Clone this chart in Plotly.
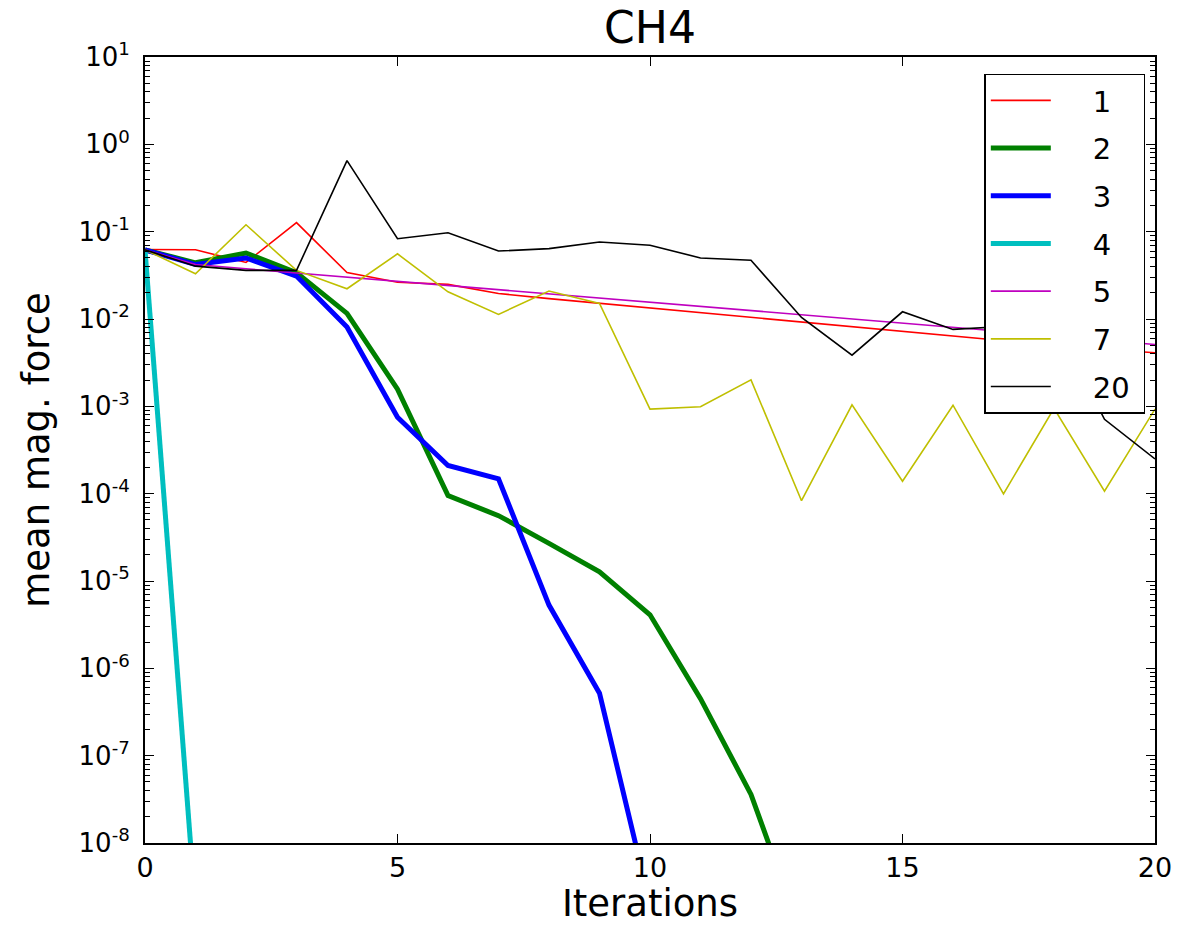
import plotly.graph_objects as go

iterations = list(range(0, 21))

s1 = [0.0625, 0.062, 0.0444, 0.127, 0.034, 0.0264, 0.0249, 0.0196, 0.0171, 0.0151,
      0.0134, 0.0118, 0.0105, 0.0092, 0.0082, 0.0072, 0.0064, 0.0056, 0.0050, 0.0045, 0.0041]
s2 = [0.062, 0.044, 0.057, 0.034, 0.0116, 0.00157, 9.5e-5, 5.6e-5, 2.7e-5, 1.27e-5,
      4.1e-6, 4.5e-7, 3.6e-8, 9e-10]
s3 = [0.062, 0.042, 0.050, 0.031, 0.0081, 7.5e-4, 2.1e-4, 1.48e-4, 5.3e-6, 5.2e-7, 2e-9]
s4 = [0.062, 1.8e-9]
s5 = [0.062, 0.042, 0.0376, 0.0337, 0.0301, 0.0270, 0.0242, 0.0216, 0.0194, 0.0173,
      0.0155, 0.0139, 0.0124, 0.0111, 0.0100, 0.0089, 0.0080, 0.0072, 0.0064, 0.0057, 0.0051]
s7 = [0.062, 0.033, 0.12, 0.036, 0.0222, 0.0557, 0.0205, 0.0113, 0.0209, 0.0151,
      0.00093, 0.00099, 0.00201, 8.3e-5, 0.00104, 1.39e-4, 0.00103, 9.96e-5, 0.00095, 1.07e-4, 0.00093]
s20 = [0.062, 0.0403, 0.036, 0.036, 0.65, 0.083, 0.097, 0.060, 0.064, 0.0763,
       0.070, 0.050, 0.047, 0.0104, 0.00385, 0.0121, 0.0076, 0.0082, 0.0095, 0.00071, 0.00025]

series = [
    ("1", s1, "#ff0000", 1.6),
    ("2", s2, "#008000", 5),
    ("3", s3, "#0000ff", 5),
    ("4", s4, "#00bfbf", 5),
    ("5", s5, "#bf00bf", 1.6),
    ("7", s7, "#bfbf00", 1.6),
    ("20", s20, "#000000", 1.6),
]

y_major = [10.0 ** k for k in range(-8, 2)]
y_labels = ["10<sup>%d</sup>" % k for k in range(-8, 2)]
y_minor = [m * 10.0 ** k for k in range(-8, 1) for m in range(2, 10)]
x_ticks = [0, 5, 10, 15, 20]

FONT = "DejaVu Sans"
NB = "\u00a0"

fig = go.Figure()
for name, vals, color, w in series:
    fig.add_trace(go.Scatter(
        x=iterations[:len(vals)], y=vals, mode="lines",
        name=NB * 4 + name + NB * (3 if len(name) == 1 else 1),
        legendgroup=name,
        line=dict(color=color, width=w),
    ))

fig.update_layout(
    width=1184, height=925,
    paper_bgcolor="white", plot_bgcolor="white",
    margin=dict(l=145, r=22, t=57, b=80),
    font=dict(family=FONT, color="black", size=26),
    title=dict(text="CH4", x=0.5, xref="paper", xanchor="center",
               y=0.970, yref="container", yanchor="middle",
               font=dict(size=44, family=FONT)),
    showlegend=True,
    legend=dict(x=0.831, y=0.979, xanchor="left", yanchor="top",
                bordercolor="black", borderwidth=1.5, bgcolor="white",
                font=dict(size=29, family=FONT), tracegroupgap=7,
                itemwidth=60),
)

fig.update_xaxes(
    range=[0, 20], tickvals=x_ticks, ticktext=[str(v) for v in x_ticks],
    ticks="inside", ticklen=9, tickwidth=1, tickcolor="black",
    showline=True, linecolor="black", linewidth=2, mirror="allticks",
    showgrid=False, zeroline=False,
    tickfont=dict(size=27, family=FONT),
    title=dict(text="Iterations", font=dict(size=37, family=FONT), standoff=4),
)
fig.update_yaxes(
    type="log", range=[-8, 1], tickvals=y_major, ticktext=y_labels,
    ticks="inside", ticklen=9, tickwidth=1, tickcolor="black",
    showline=True, linecolor="black", linewidth=2, mirror="allticks",
    showgrid=False, zeroline=False,
    minor=dict(tickvals=y_minor, ticks="inside", ticklen=5, tickwidth=1,
               tickcolor="black", showgrid=False),
    tickfont=dict(size=26, family=FONT), ticklabelstandoff=8,
    title=dict(text="mean mag. force", font=dict(size=37, family=FONT), standoff=18),
)

fig.write_html("out.html")
